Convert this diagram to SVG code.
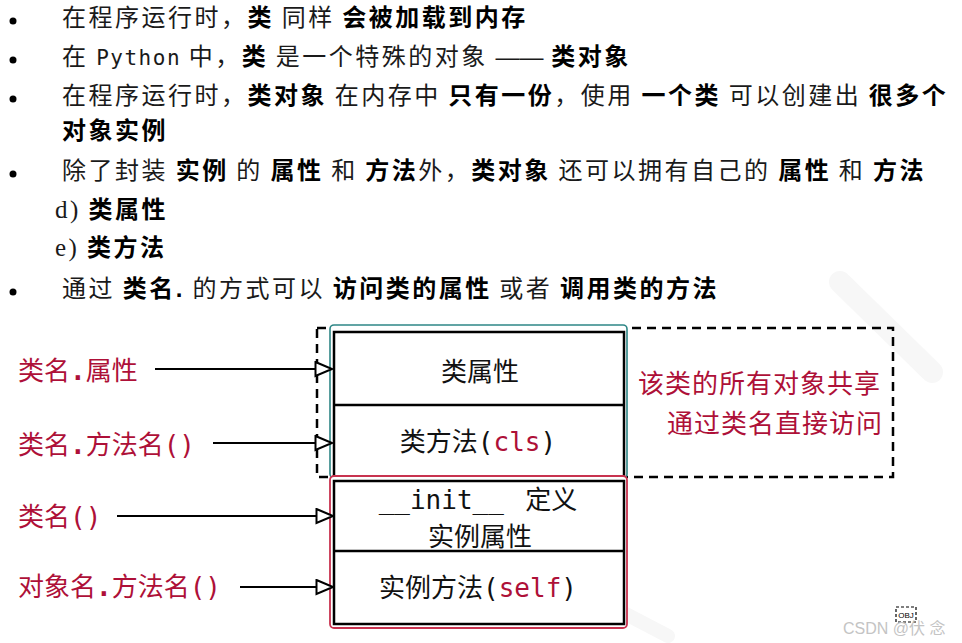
<svg xmlns="http://www.w3.org/2000/svg" width="962" height="643" viewBox="0 0 962 643">
<defs>
<style>
.t{font-family:"Liberation Sans","Noto Sans CJK SC",sans-serif;font-size:24px;letter-spacing:2.5px;word-spacing:-1.5px;fill:#1a1a1a}
.b{font-weight:bold;fill:#000}
.py{font-family:"DejaVu Sans Mono","Noto Sans CJK SC",monospace;font-size:21px;letter-spacing:1.5px}
.dash{letter-spacing:0}
.ser{font-family:"Liberation Serif","Noto Sans CJK SC",serif;font-size:25px}
.lab{font-family:"Noto Sans CJK SC",sans-serif;font-size:26px;fill:#ae1038}
.mono{font-family:"DejaVu Sans Mono","Noto Sans CJK SC",monospace}
.dt{font-family:"Noto Sans CJK SC",sans-serif;font-size:26px;fill:#111}
.red{fill:#ae1038}
.arr{stroke:#000;stroke-width:2.2;fill:none;marker-end:url(#tri)}
.box{fill:none;stroke:#000;stroke-width:2.5}
</style>
<marker id="tri" markerUnits="userSpaceOnUse" markerWidth="20" markerHeight="18" refX="18" refY="8" orient="auto">
<path d="M1.5,1 L18,8 L1.5,15 Z" fill="#fff" stroke="#000" stroke-width="2"/>
</marker>
</defs>
<rect width="962" height="643" fill="#fff"/>
<g id="watermark" fill="none" stroke="#f7f7f7" stroke-linecap="round">
<line x1="840" y1="282" x2="932" y2="372" stroke-width="22"/>
<line x1="622" y1="612" x2="668" y2="636" stroke-width="14"/>
</g>
<g id="bullets" fill="#000">
<circle cx="13" cy="21" r="3.5"/>
<circle cx="13" cy="60" r="3.5"/>
<circle cx="13" cy="99" r="3.5"/>
<circle cx="13" cy="174" r="3.5"/>
<circle cx="13" cy="292" r="3.5"/>
</g>
<g id="text-list" class="t" xml:space="preserve">
<text x="62" y="26">在程序运行时，<tspan class="b">类</tspan> 同样 <tspan class="b">会被加载到内存</tspan></text>
<text x="62" y="65">在 <tspan class="py">Python</tspan> 中，<tspan class="b">类</tspan> 是一个特殊的对象 <tspan class="dash">——</tspan> <tspan class="b">类对象</tspan></text>
<text x="62" y="104">在程序运行时，<tspan class="b">类对象</tspan> 在内存中 <tspan class="b">只有一份</tspan>，使用 <tspan class="b">一个类</tspan> 可以创建出 <tspan class="b">很多个</tspan></text>
<text x="62" y="139"><tspan class="b">对象实例</tspan></text>
<text x="62" y="179">除了封装 <tspan class="b">实例</tspan> 的 <tspan class="b">属性</tspan> 和 <tspan class="b">方法</tspan>外，<tspan class="b">类对象</tspan> 还可以拥有自己的 <tspan class="b">属性</tspan> 和 <tspan class="b">方法</tspan></text>
<text x="55" y="218"><tspan class="ser">d)</tspan> <tspan class="b">类属性</tspan></text>
<text x="55" y="256"><tspan class="ser">e)</tspan> <tspan class="b">类方法</tspan></text>
<text x="62" y="297">通过 <tspan class="b">类名.</tspan> 的方式可以 <tspan class="b">访问类的属性</tspan> 或者 <tspan class="b">调用类的方法</tspan></text>
</g>
<g id="shared-region">
<rect x="317" y="328" width="576" height="149" fill="none" stroke="#000" stroke-width="2.5" stroke-dasharray="9 6"/>
<text class="lab" x="638" y="393" letter-spacing="1">该类的所有对象共享</text>
<text class="lab" x="667" y="433" letter-spacing="1">通过类名直接访问</text>
</g>
<g id="class-object">
<rect x="330" y="325" width="297" height="153" rx="4" fill="#fff" stroke="#2e8686" stroke-width="1.6"/>
<rect class="box" x="334" y="332" width="290" height="146"/>
<line x1="334" y1="405" x2="624" y2="405" stroke="#000" stroke-width="2.5"/>
<text class="dt" x="480" y="381" text-anchor="middle">类属性</text>
<text class="dt" x="478" y="451" text-anchor="middle">类方法<tspan class="mono">(<tspan class="red">cls</tspan>)</tspan></text>
</g>
<g id="instance">
<rect x="330" y="476" width="297" height="152" rx="4" fill="#fff" stroke="#c8324f" stroke-width="1.8"/>
<rect class="box" x="334" y="481" width="290" height="143"/>
<line x1="334" y1="551" x2="624" y2="551" stroke="#000" stroke-width="2.5"/>
<text class="dt" x="478" y="509" text-anchor="middle" xml:space="preserve"><tspan class="mono">__init__ </tspan> 定义</text>
<text class="dt" x="480" y="546" text-anchor="middle">实例属性</text>
<text class="dt" x="478" y="597" text-anchor="middle">实例方法<tspan class="mono">(<tspan class="red">self</tspan>)</tspan></text>
</g>
<g id="labels">
<text class="lab" x="18" y="380">类名<tspan class="mono" font-weight="bold">.</tspan>属性</text>
<text class="lab" x="18" y="454">类名<tspan class="mono" font-weight="bold">.</tspan>方法名<tspan class="mono">()</tspan></text>
<text class="lab" x="18" y="526">类名<tspan class="mono">()</tspan></text>
<text class="lab" x="18" y="596">对象名<tspan class="mono" font-weight="bold">.</tspan>方法名<tspan class="mono">()</tspan></text>
</g>
<g id="connectors">
<line class="arr" x1="155" y1="369" x2="332" y2="369"/>
<line class="arr" x1="213" y1="443" x2="332" y2="443"/>
<line class="arr" x1="117" y1="516" x2="333" y2="516"/>
<line class="arr" x1="240" y1="587" x2="333" y2="587"/>
</g>
<g id="footer">
<rect x="896" y="607" width="20" height="15" fill="none" stroke="#000" stroke-width="1.2" stroke-dasharray="3 2"/>
<text x="906" y="618" text-anchor="middle" font-family="Liberation Sans, sans-serif" font-size="8" fill="#000">OBJ</text>
<text x="843" y="634" font-family="Liberation Sans, Noto Sans CJK SC, sans-serif" font-size="16" fill="#c4c4c4">CSDN @伏 念</text>
</g>
</svg>
